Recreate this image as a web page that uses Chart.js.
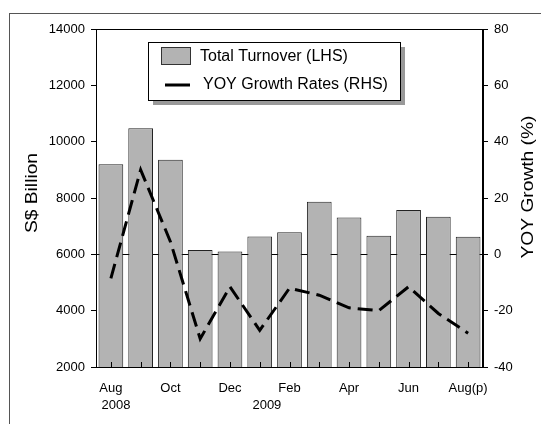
<!DOCTYPE html>
<html lang="en">
<head>
    <meta charset="UTF-8">
    <title>Total Turnover and YOY Growth</title>
    <script src="https://cdn.jsdelivr.net/npm/chart.js"></script>
    <style>
        body { margin: 0; background: #fff; }
        #wrap { width: 541px; height: 424px; }
    </style>
</head>
<body>
    <div id="wrap"><canvas id="turnoverChart" width="541" height="424"></canvas></div>

    <script>
        // data
        const months = ['Aug', 'Sep', 'Oct', 'Nov', 'Dec', 'Jan', 'Feb', 'Mar', 'Apr', 'May', 'Jun', 'Jul', 'Aug(p)'];
        const turnover = [9200, 10480, 9360, 6150, 6100, 6630, 6780, 7870, 7310, 6660, 7570, 7330, 6620];
        const yoyGrowth = [-8.5, 30, 4.5, -30, -11.5, -27, -12, -14.5, -19, -20, -11.5, -21, -28];
        const leftTicks = [2000, 4000, 6000, 8000, 10000, 12000, 14000];
        const rightTicks = [-40, -20, 0, 20, 40, 60, 80];
        // year captions: text and where they sit along the category axis
        const years = ['2008', '2009'];
        const yearAt = [0.17, 5.24];
        const leftTitle = 'S$ Billion';
        const rightTitle = 'YOY Growth (%)';

        const FONT = "Arial, 'Liberation Sans', sans-serif";
        Chart.defaults.font.family = FONT;
        Chart.defaults.color = '#000';

        // rotated axis caption, slightly stretched along its length like the original
        function sideTitle(c, text, cx, cy) {
            c.save();
            c.translate(cx, cy);
            c.rotate(-Math.PI / 2);
            c.scale(1.2, 1);
            c.font = '16px ' + FONT;
            c.fillStyle = '#000';
            c.textAlign = 'center';
            c.textBaseline = 'middle';
            c.fillText(text, 0, 0);
            c.restore();
        }

        const frameAndLegend = {
            id: 'frameAndLegend',
            beforeDraw(chart) {
                const c = chart.ctx;
                c.save();
                c.fillStyle = '#fff';
                c.fillRect(0, 0, chart.width, chart.height);
                c.strokeStyle = '#555';
                c.lineWidth = 1;
                c.strokeRect(9.5, 13.5, 700, 600);
                c.restore();
            },
            afterDraw(chart) {
                const c = chart.ctx;
                const a = chart.chartArea;
                const x = chart.scales.x;
                c.save();
                // plot frame
                c.strokeStyle = '#000';
                c.lineWidth = 1;
                c.strokeRect(Math.round(a.left) + 0.5, Math.round(a.top) + 0.5,
                    Math.round(a.right - a.left) - 1, Math.round(a.bottom - a.top));
                // inside tick marks on the category axis
                c.beginPath();
                months.forEach((m, i) => {
                    const px = Math.round(x.getPixelForValue(i)) + 0.5;
                    c.moveTo(px, a.bottom);
                    c.lineTo(px, a.bottom - 5);
                });
                c.stroke();
                // year captions
                c.font = '13px ' + FONT;
                c.fillStyle = '#000';
                c.textAlign = 'center';
                c.textBaseline = 'middle';
                years.forEach((y, i) => {
                    c.fillText(y, x.getPixelForValue(yearAt[i]), 405);
                });
                sideTitle(c, leftTitle, 33, 193);
                sideTitle(c, rightTitle, 529, 187);

                // legend box
                const lx = 148, ly = 42, lw = 252, lh = 58;
                c.fillStyle = '#999';
                c.fillRect(lx + 5, ly + 5, lw, lh);
                c.fillStyle = '#fff';
                c.fillRect(lx, ly, lw, lh);
                c.strokeStyle = '#000';
                c.lineWidth = 1;
                c.strokeRect(lx + 0.5, ly + 0.5, lw, lh);

                const bars = chart.data.datasets[0];
                const line = chart.data.datasets[1];
                c.fillStyle = bars.backgroundColor;
                c.fillRect(161, 47, 30, 18);
                c.strokeStyle = '#333';
                c.strokeRect(161.5, 47.5, 29, 17);
                c.strokeStyle = line.borderColor;
                c.lineWidth = 3;
                c.beginPath();
                c.moveTo(165, 85);
                c.lineTo(190, 85);
                c.stroke();

                c.font = '16px ' + FONT;
                c.fillStyle = '#000';
                c.textAlign = 'left';
                c.textBaseline = 'middle';
                c.fillText(bars.label, 200, 57);
                c.fillText(line.label, 203, 85);
                c.restore();
            }
        };

        const ctx = document.getElementById('turnoverChart').getContext('2d');
        const chart = new Chart(ctx, {
            type: 'bar',
            data: {
                labels: months,
                datasets: [{
                    type: 'bar',
                    label: 'Total Turnover (LHS)',
                    data: turnover,
                    yAxisID: 'y',
                    backgroundColor: '#b3b3b3',
                    borderColor: '#222',
                    borderWidth: 1,
                    categoryPercentage: 1,
                    barPercentage: 0.83,
                    order: 2
                }, {
                    type: 'line',
                    label: 'YOY Growth Rates (RHS)',
                    data: yoyGrowth,
                    yAxisID: 'y1',
                    borderColor: '#000',
                    borderWidth: 3,
                    borderDash: [15, 7],
                    pointRadius: 0,
                    tension: 0,
                    fill: false,
                    order: 1
                }]
            },
            options: {
                responsive: false,
                animation: false,
                layout: { padding: { top: 29, left: 0, right: 0, bottom: 0 } },
                plugins: {
                    legend: { display: false },
                    tooltip: { enabled: false }
                },
                scales: {
                    x: {
                        offset: true,
                        grid: { display: true, drawOnChartArea: false, drawTicks: false },
                        border: { color: '#000' },
                        ticks: {
                            autoSkip: false,
                            maxRotation: 0,
                            padding: 14,
                            font: { size: 13 },
                            callback: (v, i) => (i % 2 === 0 ? months[i] : '')
                        },
                        afterFit: s => { s.height = 57; }
                    },
                    y: {
                        position: 'left',
                        min: leftTicks[0],
                        max: leftTicks[leftTicks.length - 1],
                        afterBuildTicks: s => { s.ticks = leftTicks.map(v => ({ value: v })); },
                        grid: { drawOnChartArea: false, tickLength: 5, tickColor: '#000' },
                        border: { color: '#000' },
                        ticks: { padding: 6, font: { size: 13 }, callback: v => String(v) },
                        afterFit: s => { s.width = 96; }
                    },
                    y1: {
                        position: 'right',
                        min: rightTicks[0],
                        max: rightTicks[rightTicks.length - 1],
                        afterBuildTicks: s => { s.ticks = rightTicks.map(v => ({ value: v })); },
                        grid: {
                            drawOnChartArea: true,
                            tickLength: 5,
                            tickColor: '#000',
                            color: c => (c.tick && c.tick.value === 0 ? '#000' : 'rgba(0,0,0,0)')
                        },
                        border: { color: '#000' },
                        ticks: { padding: 6, font: { size: 13 }, callback: v => String(v) },
                        afterFit: s => { s.width = 58; }
                    }
                }
            },
            plugins: [frameAndLegend]
        });
    </script>
</body>
</html>
